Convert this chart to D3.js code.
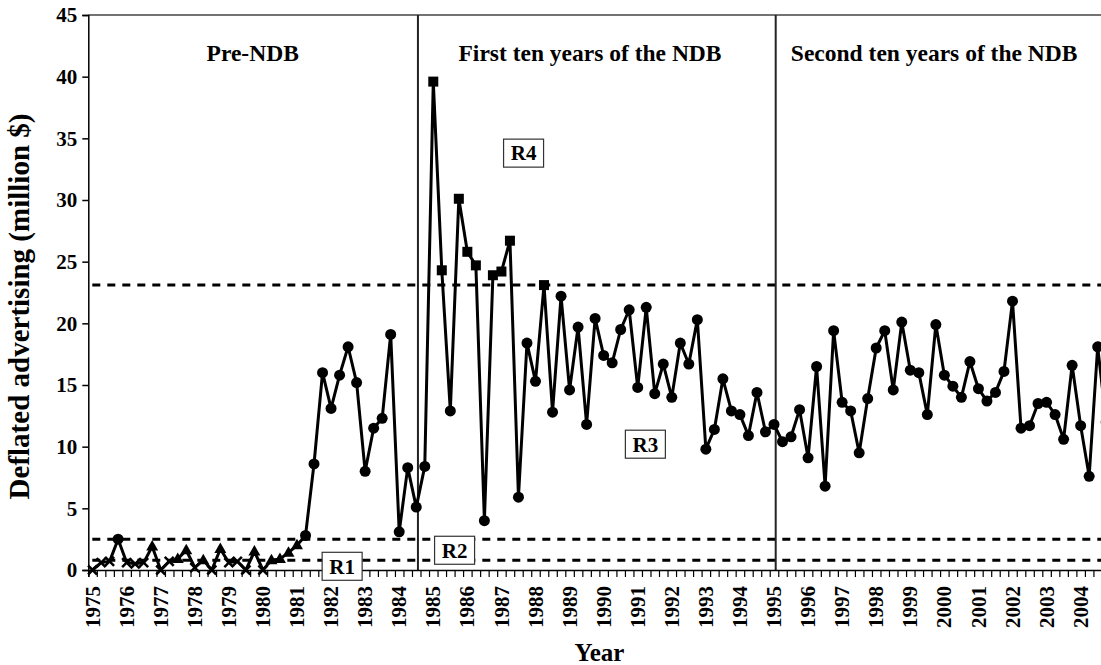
<!DOCTYPE html>
<html>
<head>
<meta charset="utf-8">
<script src="https://cdn.jsdelivr.net/npm/d3@7"></script>
<style>
  body { margin: 0; background: #fff; }
  text { font-family: "Liberation Serif", "Times New Roman", serif; font-weight: bold; fill: #000; }
</style>
</head>
<body>
<div id="chart"></div>
<script>
// Quarterly deflated advertising, 1975 Q1 .. 2004 Q4 (million $)
const years = d3.range(1975, 2005);
const advertising = [
  0, 0.6, 0.7, 2.5,      // 1975
  0.6, 0.5, 0.6, 1.9,    // 1976
  0, 0.7, 0.9, 1.6,      // 1977
  0.2, 0.8, 0, 1.7,      // 1978
  0.6, 0.7, 0, 1.5,      // 1979
  0, 0.8, 0.9, 1.4,      // 1980
  2.0, 2.8, 8.6, 16.0,   // 1981
  13.1, 15.8, 18.1, 15.2,
  8.0, 11.5, 12.3, 19.1,
  3.1, 8.3, 5.1, 8.4,    // 1984
  39.6, 24.3, 12.9, 30.1,
  25.8, 24.7, 4.0, 23.9,
  24.2, 26.7, 5.9, 18.4,
  15.3, 23.1, 12.8, 22.2,
  14.6, 19.7, 11.8, 20.4,
  17.4, 16.8, 19.5, 21.1, // 1990
  14.8, 21.3, 14.3, 16.7,
  14.0, 18.4, 16.7, 20.3,
  9.8, 11.4, 15.5, 12.9,
  12.6, 10.9, 14.4, 11.2,
  11.8, 10.4, 10.8, 13.0, // 1995
  9.1, 16.5, 6.8, 19.4,
  13.6, 12.9, 9.5, 13.9,
  18.0, 19.4, 14.6, 20.1,
  16.2, 16.0, 12.6, 19.9,
  15.8, 14.9, 14.0, 16.9, // 2000
  14.7, 13.7, 14.4, 16.1,
  21.8, 11.5, 11.7, 13.5,
  13.6, 12.6, 10.6, 16.6,
  11.7, 7.6, 18.1, 12.0   // 2004
];
// regime thresholds (dashed lines)
const thresholds = [0.8, 2.5, 23.1];
const yTicks = d3.range(0, 50, 5);
const periodNames = ["Pre-NDB", "First ten years of the NDB", "Second ten years of the NDB"];
const regionNames = ["R1", "R2", "R3", "R4"];

const W = 1101, H = 665;
const margin = {top: 15, left: 88.3, bottom: 95};
const nQ = advertising.length;

const svg = d3.select("#chart").append("svg")
  .attr("width", W).attr("height", H);

// category scale: quarter index -> centre x
const x = d3.scaleLinear()
  .domain([-0.5, nQ - 0.5])
  .range([margin.left, margin.left + nQ * 8.518]);
const y = d3.scaleLinear()
  .domain([0, 45])
  .range([H - margin.bottom, margin.top]);

// plot area frame (top edge visible)
svg.append("line")
  .attr("x1", x(-0.5)).attr("x2", x(nQ - 0.5))
  .attr("y1", y(45)).attr("y2", y(45))
  .attr("stroke", "#444").attr("stroke-width", 1.5);

// threshold dashed lines
svg.append("g").selectAll("line")
  .data(thresholds)
  .join("line")
  .attr("x1", x(-0.5) + 4).attr("x2", x(nQ - 0.5))
  .attr("y1", d => y(d)).attr("y2", d => y(d))
  .attr("stroke", "#000").attr("stroke-width", 3)
  .attr("stroke-dasharray", "8,7");

// period dividers
const dividerAt = [38.2, 80.2];
svg.append("g").selectAll("line")
  .data(dividerAt)
  .join("line")
  .attr("x1", d => x(d)).attr("x2", d => x(d))
  .attr("y1", y(45)).attr("y2", y(0))
  .attr("stroke", "#222").attr("stroke-width", 2);

// period headings
const periodAt = [18.8, 58.4, 98.8];
svg.append("g").selectAll("text")
  .data(periodNames)
  .join("text")
  .attr("x", (d, i) => x(periodAt[i]))
  .attr("y", 61)
  .attr("text-anchor", "middle")
  .attr("font-size", 23.5)
  .text(d => d);

// y axis
const yAxis = svg.append("g")
  .attr("transform", `translate(${x(-0.5)},0)`)
  .call(d3.axisLeft(y).tickValues(yTicks).tickSize(6).tickPadding(5));
yAxis.select(".domain").attr("stroke", "#000").attr("stroke-width", 1.5);
yAxis.selectAll(".tick line").attr("stroke-width", 1.5);
yAxis.selectAll("text")
  .attr("font-size", 21)
  .attr("font-family", "Liberation Serif")
  .attr("font-weight", "bold");

// x axis: minor ticks on every quarter boundary
const xAxis = svg.append("g")
  .attr("transform", `translate(0,${y(0)})`)
  .call(d3.axisBottom(x)
    .tickValues(d3.range(nQ + 1).map(i => i - 0.5))
    .tickSize(7).tickFormat(""));
xAxis.select(".domain").attr("stroke", "#000").attr("stroke-width", 1.5);
xAxis.selectAll(".tick line").attr("stroke-width", 1.2);

// year labels on first quarter of each year
svg.append("g").selectAll("text")
  .data(years)
  .join("text")
  .attr("transform", (d, i) => `translate(${x(i * 4)},${y(0) + 16}) rotate(-90)`)
  .attr("dy", "0.34em")
  .attr("text-anchor", "end")
  .attr("font-size", 21)
  .text(d => d);

// axis titles
svg.append("text")
  .attr("x", (x(-0.5) + x(nQ - 0.5)) / 2)
  .attr("y", 661)
  .attr("text-anchor", "middle")
  .attr("font-size", 25)
  .text("Year");
svg.append("text")
  .attr("transform", `translate(29,${(y(0) + y(45)) / 2 + 14}) rotate(-90)`)
  .attr("text-anchor", "middle")
  .attr("font-size", 29)
  .text("Deflated advertising (million $)");

// series line
const line = d3.line()
  .x((d, i) => x(i))
  .y(d => y(d));
svg.append("path")
  .datum(advertising)
  .attr("d", line)
  .attr("fill", "none")
  .attr("stroke", "#000")
  .attr("stroke-width", 3)
  .attr("stroke-linejoin", "round");

// markers by regime
function regime(v) {
  if (v < thresholds[0]) return 0;
  if (v < thresholds[1]) return 1;
  if (v < thresholds[2]) return 2;
  return 3;
}
const markers = svg.append("g");
advertising.forEach((v, i) => {
  const g = markers.append("g")
    .attr("transform", `translate(${x(i)},${y(v)})`);
  const r = regime(v);
  if (r === 0) {
    g.append("path").attr("d", "M-4.5,-4.5L4.5,4.5M-4.5,4.5L4.5,-4.5")
      .attr("stroke", "#000").attr("stroke-width", 2.5).attr("fill", "none");
  } else if (r === 1) {
    g.append("path").attr("d", "M0,-6.5L6,4L-6,4Z").attr("fill", "#000");
  } else if (r === 2) {
    g.append("circle").attr("r", 5.5).attr("fill", "#000");
  } else {
    g.append("rect").attr("x", -5).attr("y", -5)
      .attr("width", 10).attr("height", 10).attr("fill", "#000");
  }
});

// regime labels in boxes
const regionAt = [[29.3, 0.3], [42.5, 1.6], [64.9, 10.2], [50.6, 33.8]];
const boxes = svg.append("g").selectAll("g")
  .data(regionNames)
  .join("g")
  .attr("transform", (d, i) => `translate(${x(regionAt[i][0])},${y(regionAt[i][1])})`);
boxes.append("rect")
  .attr("x", -20).attr("y", -14)
  .attr("width", 40).attr("height", 28)
  .attr("fill", "#fff").attr("stroke", "#333").attr("stroke-width", 1.2);
boxes.append("text")
  .attr("text-anchor", "middle")
  .attr("dy", "0.35em")
  .attr("font-size", 21)
  .text(d => d);
</script>
</body>
</html>
